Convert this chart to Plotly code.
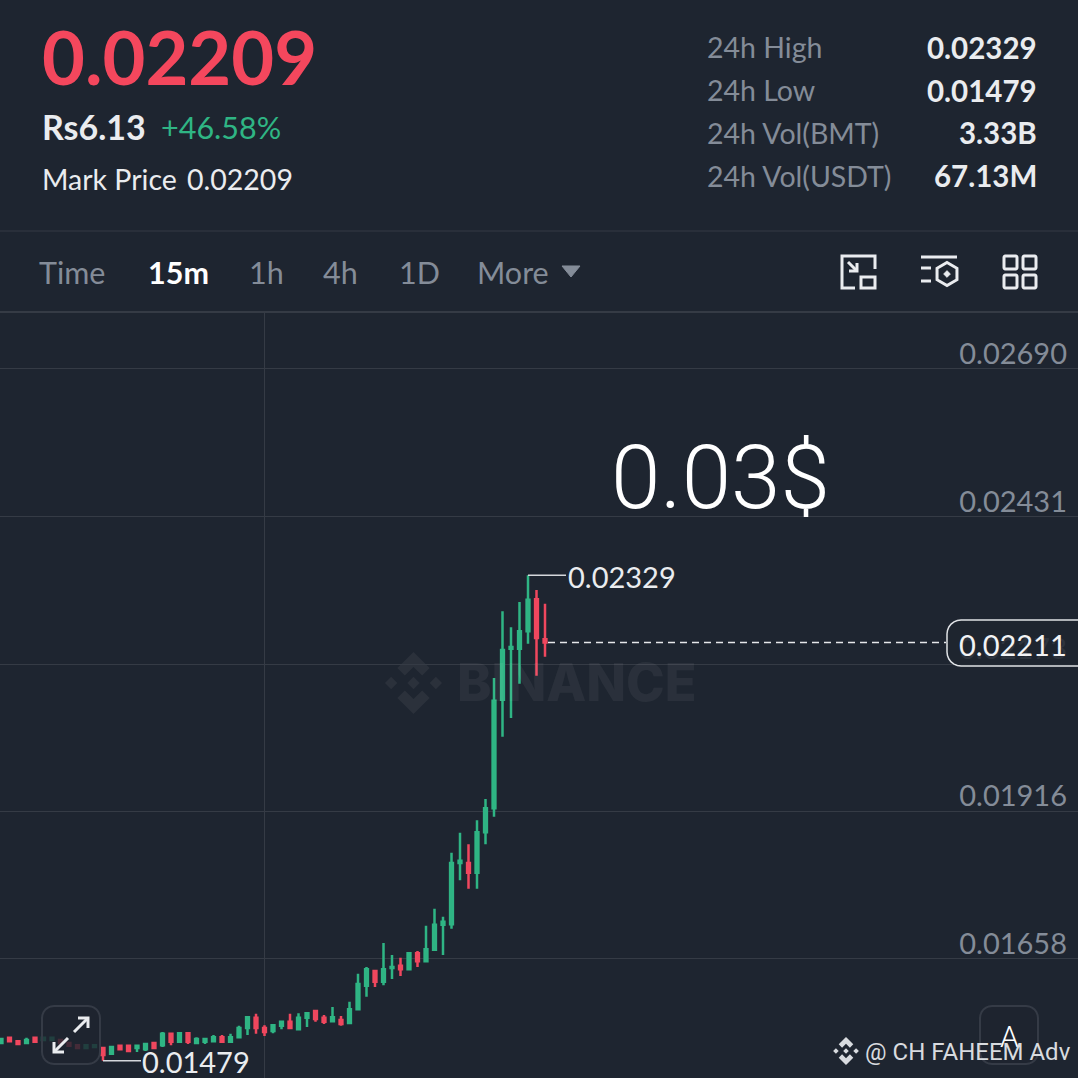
import math
import plotly.graph_objects as go

# ---------- data ----------
indices = list(range(65))
opens = [0.01510,0.01519,0.01513,0.01510,0.01519,0.01515,0.01515,0.01515,0.01510,0.01506,
         0.01501,0.01503,0.01501,0.01491,0.01505,0.01505,0.01501,0.01499,0.01510,0.01506,
         0.01526,0.01512,0.01527,0.01510,0.01512,0.01513,0.01520,0.01512,0.01520,0.01536,
         0.01554,0.01536,0.01531,0.01540,0.01547,0.01534,0.01554,0.01566,0.01554,0.01548,
         0.01550,0.01545,0.01569,0.01610,0.01636,0.01617,0.01641,0.01645,0.01639,0.01667,
         0.01653,0.01673,0.01717,0.01718,0.01825,0.01825,0.01808,0.01879,0.01921,0.02111,
         0.02200,0.02200,0.02231,0.02287,0.02217]
highs = [0.01517,0.01520,0.01515,0.01519,0.01520,0.01519,0.01519,0.01517,0.01512,0.01508,
         0.01506,0.01506,0.01503,0.01505,0.01506,0.01506,0.01505,0.01510,0.01510,0.01529,
         0.01526,0.01529,0.01527,0.01520,0.01517,0.01524,0.01524,0.01526,0.01540,0.01555,
         0.01561,0.01541,0.01541,0.01547,0.01561,0.01562,0.01562,0.01566,0.01559,0.01573,
         0.01557,0.01582,0.01631,0.01643,0.01636,0.01685,0.01664,0.01659,0.01669,0.01671,
         0.01715,0.01745,0.01731,0.01843,0.01878,0.01858,0.01900,0.01937,0.02149,0.02266,
         0.02238,0.02282,0.02329,0.02303,0.02279]
lows = [0.01510,0.01513,0.01508,0.01508,0.01510,0.01513,0.01513,0.01508,0.01503,0.01501,
        0.01499,0.01501,0.01479,0.01491,0.01499,0.01496,0.01494,0.01496,0.01501,0.01503,
        0.01506,0.01510,0.01508,0.01508,0.01508,0.01512,0.01510,0.01510,0.01520,0.01524,
        0.01526,0.01522,0.01527,0.01534,0.01536,0.01534,0.01538,0.01547,0.01543,0.01547,
        0.01540,0.01543,0.01569,0.01591,0.01608,0.01611,0.01622,0.01627,0.01639,0.01643,
        0.01653,0.01673,0.01664,0.01710,0.01795,0.01780,0.01780,0.01858,0.01906,0.02046,
        0.02079,0.02139,0.02209,0.02153,0.02186]
closes = [0.01517,0.01513,0.01508,0.01515,0.01512,0.01519,0.01519,0.01510,0.01505,0.01501,
          0.01506,0.01506,0.01489,0.01503,0.01499,0.01496,0.01505,0.01508,0.01501,0.01526,
          0.01512,0.01527,0.01512,0.01517,0.01517,0.01520,0.01512,0.01520,0.01536,0.01555,
          0.01536,0.01529,0.01541,0.01547,0.01536,0.01554,0.01562,0.01552,0.01547,0.01555,
          0.01543,0.01569,0.01613,0.01639,0.01617,0.01639,0.01643,0.01639,0.01667,0.01653,
          0.01674,0.01717,0.01722,0.01825,0.01829,0.01808,0.01879,0.01921,0.02109,0.02198,
          0.02203,0.02231,0.02286,0.02219,0.02211]
axis_prices = [0.02690, 0.02431, 0.02173, 0.01916, 0.01658]
axis_labels = ["0.02690", "0.02431", "0.02173", "0.01916", "0.01658"]
vertical_grid_index = [31]
high_index, high_price = 62, 0.02329
low_index, low_price = 12, 0.01479
last_index, last_price = 64, 0.02211
stat_names = ["24h High", "24h Low", "24h Vol(BMT)", "24h Vol(USDT)"]
stat_values = ["0.02329", "0.01479", "3.33B", "67.13M"]
tabs = ["Time", "15m", "1h", "4h", "1D", "More"]

# ---------- styling ----------
BG = "#1e2530"
GREEN = "#2fb584"
RED = "#f0475e"
GRID = "#353b45"
GRAY = "#848c98"
WHITE = "#eaecef"
FONT = "Lato"
S = 1078.0


def X(x):
    return x / S


def Y(y):
    return 1 - y / S


def path(points, close=False):
    d = "M" + " L".join(f"{X(x):.5f},{Y(y):.5f}" for x, y in points)
    return d + (" Z" if close else "")


def rrect(x0, y0, x1, y1, r):
    n = 6
    pts = []
    for cx, cy, a0 in [(x1 - r, y0 + r, -90), (x1 - r, y1 - r, 0), (x0 + r, y1 - r, 90), (x0 + r, y0 + r, 180)]:
        for k in range(n + 1):
            a = math.radians(a0 + 90 * k / n)
            pts.append((cx + r * math.cos(a), cy + r * math.sin(a)))
    return path(pts, True)


shapes = []


def stroke(points, color=WHITE, width=3, close=False, fill=None, layer="above"):
    shapes.append(dict(type="path", xref="paper", yref="paper", path=path(points, close),
                       line=dict(color=color, width=width),
                       fillcolor=fill if fill else "rgba(0,0,0,0)", layer=layer))


def logo(cx, cy, r, color, layer):
    parts = [
        [(0, -.2), (.2, 0), (0, .2), (-.2, 0)],
        [(-.72, -.2), (-.52, 0), (-.72, .2), (-.92, 0)],
        [(.72, -.2), (.92, 0), (.72, .2), (.52, 0)],
        [(0, -1), (.52, -.48), (.28, -.24), (0, -.52), (-.28, -.24), (-.52, -.48)],
        [(0, 1), (.52, .48), (.28, .24), (0, .52), (-.28, .24), (-.52, .48)],
    ]
    for p in parts:
        pts = [(cx + a * r, cy + b * r) for a, b in p]
        shapes.append(dict(type="path", xref="paper", yref="paper", path=path(pts, True),
                           line=dict(width=0), fillcolor=color, layer=layer))


def rr_shape(x0, y0, x1, y1, r, line, width, fill):
    shapes.append(dict(type="path", xref="paper", yref="paper", path=rrect(x0, y0, x1, y1, r),
                       line=dict(color=line, width=width), fillcolor=fill, layer="above"))


# separators
for yy, w in [(231, 1.2), (312, 2)]:
    shapes.append(dict(type="line", xref="paper", yref="paper", x0=0, x1=1, y0=Y(yy), y1=Y(yy),
                       line=dict(color=GRID, width=w), layer="below"))

# watermark
logo(413.5, 683, 31, "#2b313b", "below")

# callout connectors and last price
shapes.append(dict(type="line", xref="x", yref="y", xsizemode="pixel", xanchor=high_index, x0=0, x1=38,
                   y0=high_price, y1=high_price, line=dict(color="#d5d8dc", width=1.5), layer="above"))
shapes.append(dict(type="line", xref="x", yref="y", xsizemode="pixel", xanchor=low_index, x0=0, x1=38,
                   y0=low_price, y1=low_price, line=dict(color="#d5d8dc", width=1.5), layer="above"))
shapes.append(dict(type="line", xref="x", yref="y", xsizemode="pixel", xanchor=last_index, x0=3, x1=401,
                   y0=last_price, y1=last_price, line=dict(color="#e6e8ea", width=1.5, dash="7px,5px"), layer="above"))

# price box
rr_shape(947, 620, 1092, 666, 14, "#dfe2e5", 1.5, "rgba(30,37,48,0.86)")

# icon: resize box
stroke([(855, 288), (842, 288), (842, 256), (875, 256), (875, 269)])
stroke([(861, 277), (875, 277), (875, 288), (861, 288)], close=True)
stroke([(848, 262), (857, 271)])
stroke([(849, 271), (857, 271), (857, 263)])
# icon: settings
stroke([(921, 257), (957, 257)])
stroke([(921, 268), (931, 268)])
stroke([(921, 281), (931, 281)])
hexa = [(947 + 11.5 * math.sin(math.radians(a)), 274 - 11.5 * math.cos(math.radians(a))) for a in range(0, 360, 60)]
stroke(hexa, close=True)
stroke([(947, 270.5), (950.5, 274), (947, 277.5), (943.5, 274)], close=True, fill=WHITE, width=0.5)
# icon: grid
for x0, y0, x1, y1 in [(1004, 256, 1017, 269), (1023, 256, 1036, 269), (1004, 275, 1017, 288), (1023, 275, 1036, 288)]:
    rr_shape(x0, y0, x1, y1, 1.5, WHITE, 3, "rgba(0,0,0,0)")
# dropdown triangle
stroke([(562, 266), (580, 266), (571, 277)], color=GRAY, width=1, close=True, fill=GRAY)
# expand button
rr_shape(42, 1006, 100, 1064, 12, "#353b46", 2, "rgba(30,37,48,0.82)")
stroke([(88, 1018), (74, 1032)], width=3)
stroke([(78, 1018), (88, 1018), (88, 1028)], width=3)
stroke([(54, 1052), (68, 1038)], width=3)
stroke([(54, 1042), (54, 1052), (64, 1052)], width=3)
# right button
rr_shape(980, 1006, 1038, 1064, 12, "#353b46", 2, "rgba(30,37,48,0.82)")
# author logo
logo(846, 1051, 14, "#d8dbdf", "above")

annotations = []


def text(t, x, y, size, color=WHITE, weight=400, anchor="left", family=FONT):
    annotations.append(dict(text=t, xref="paper", yref="paper", x=X(x), y=Y(y), xanchor=anchor, yanchor="middle",
                            showarrow=False, borderpad=0,
                            font=dict(size=size, color=color, family=family, weight=weight)))


text("0.02209", 41, 56, 74, "#f4475d", 700)
text("Rs6.13", 41, 126, 34, WHITE, 700)
text("+46.58%", 160, 127, 30.5, GREEN, 400)
text("Mark Price", 41, 179, 28.5, WHITE)
text("0.02209", 186, 179, 28.5, WHITE)
for yy, n, v in zip([47, 90, 133, 176], stat_names, stat_values):
    text(n, 706, yy, 28.5, GRAY)
    text(v, 1038, yy, 29.5, WHITE, 700, "right")
for t, x, col, w in zip(tabs, [38, 147, 248, 322, 398, 476], [GRAY, "#ffffff", GRAY, GRAY, GRAY, GRAY],
                        [400, 700, 400, 400, 400, 400]):
    text(t, x, 272, 30.5, col, w)
text("0.03$", 721, 477, 89, "#ffffff", 300, "center", "Roboto")
text("BINANCE", 456, 682, 52, "rgba(255,255,255,0.055)", 800, "left", "Inter")
text("0.02211", 1013, 644, 29, "#f2f3f5", 400, "center")
text("A", 1009, 1036, 30, "#ffffff", 300, "center", "Roboto")
text("@ CH FAHEEM Adv", 864, 1052, 24, "#d8dbdf", 400, "left", "Roboto")

annotations.append(dict(text="0.02329", xref="x", yref="y", x=high_index, y=high_price, xshift=39, yshift=-1,
                        xanchor="left", yanchor="middle", showarrow=False, borderpad=0,
                        font=dict(size=29, color=WHITE, family=FONT)))
annotations.append(dict(text="0.01479", xref="x", yref="y", x=low_index, y=low_price, xshift=38, yshift=-1,
                        xanchor="left", yanchor="middle", showarrow=False, borderpad=0,
                        font=dict(size=29, color=WHITE, family=FONT)))

fig = go.Figure(go.Candlestick(
    x=indices, open=opens, high=highs, low=lows, close=closes,
    increasing=dict(line=dict(color=GREEN, width=2.5), fillcolor=GREEN),
    decreasing=dict(line=dict(color=RED, width=2.5), fillcolor=RED),
    hoverinfo="skip", showlegend=False,
))

fig.update_layout(
    width=1078, height=1078, margin=dict(l=0, r=0, t=0, b=0, pad=0),
    paper_bgcolor=BG, plot_bgcolor="rgba(0,0,0,0)", showlegend=False, boxgap=0.53,
    shapes=shapes, annotations=annotations,
    xaxis=dict(range=[-1 / 8.5, 1077 / 8.5], rangeslider=dict(visible=False), showgrid=True, gridcolor=GRID,
               gridwidth=1, tickmode="array", tickvals=vertical_grid_index, showticklabels=False, zeroline=False,
               showline=False, ticks="", fixedrange=True),
    yaxis=dict(domain=[0, 765 / 1078], range=[0.014486, 0.02788], side="right", ticklabelposition="inside",
               tickmode="array", tickvals=axis_prices, ticktext=axis_labels, showgrid=True, gridcolor=GRID, gridwidth=1,
               zeroline=False, showline=False, ticks="", ticklabelshift=-15, ticklabelstandoff=8,
               tickfont=dict(size=29, color=GRAY, family=FONT), fixedrange=True),
)

fig.write_html("out.html", config=dict(displayModeBar=False),
               post_script="document.body.style.margin='0';document.body.style.background='%s';" % BG)
